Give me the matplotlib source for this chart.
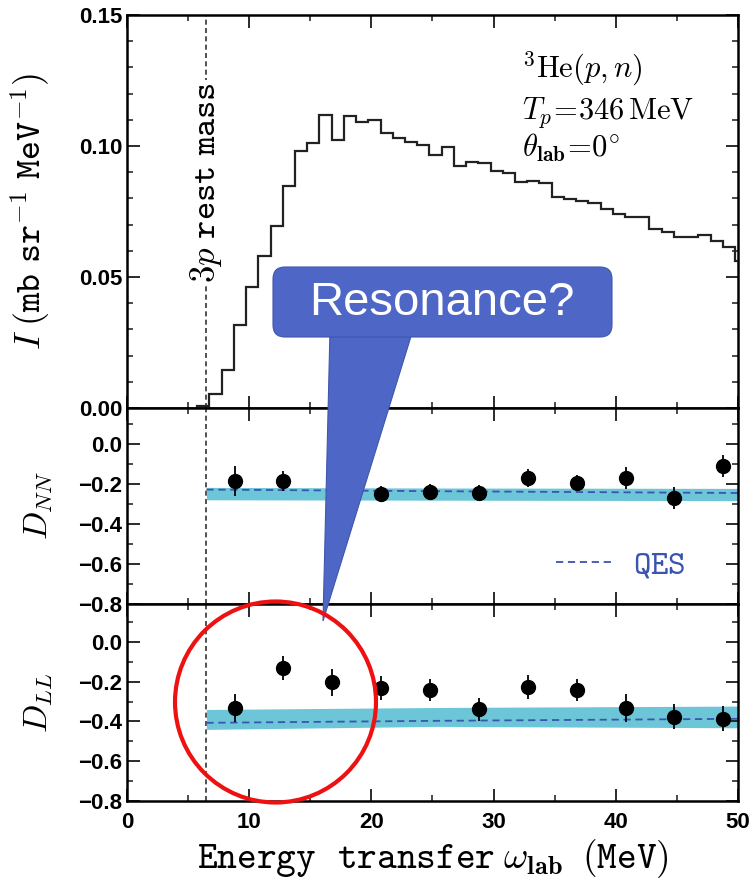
import numpy as np
import matplotlib.pyplot as plt
from matplotlib.patches import FancyBboxPatch, Polygon, Ellipse

plt.rcParams['font.family'] = 'Liberation Sans'
plt.rcParams['font.weight'] = 'bold'
plt.rcParams['mathtext.fontset'] = 'cm'

#------------ DATA -------------------
# 3He(p,n) spectrum, 1 MeV bins
hist_edges = np.arange(5.75, 50.76, 1.0)
hist_vals = [0.0007, 0.0053, 0.0145, 0.0318, 0.0463, 0.0581, 0.0696, 0.0848,
             0.0982, 0.1010, 0.1119, 0.1023, 0.1113, 0.1093, 0.1100, 0.1050,
             0.1029, 0.1014, 0.1004, 0.0966, 0.0995, 0.0925, 0.0937, 0.0935,
             0.0906, 0.0896, 0.0861, 0.0868, 0.0859, 0.0807, 0.0798, 0.0789,
             0.0781, 0.0760, 0.0741, 0.0728, 0.0730, 0.0683, 0.0670, 0.0651,
             0.0654, 0.0661, 0.0639, 0.0613, 0.0562]

threshold = 6.47   # 3p rest mass (MeV)

dnn_x = [8.8, 12.8, 20.8, 24.8, 28.8, 32.8, 36.8, 40.8, 44.8, 48.8]
dnn = [-0.183, -0.183, -0.25, -0.238, -0.245, -0.172, -0.195, -0.172, -0.27, -0.108]
dnn_err = [0.075, 0.05, 0.04, 0.04, 0.04, 0.045, 0.04, 0.055, 0.055, 0.055]

dll_x = [8.8, 12.8, 16.8, 20.8, 24.8, 28.8, 32.8, 36.8, 40.8, 44.8, 48.8]
dll = [-0.332, -0.132, -0.203, -0.232, -0.24, -0.34, -0.227, -0.243, -0.332, -0.377, -0.387]
dll_err = [0.072, 0.06, 0.068, 0.058, 0.055, 0.058, 0.058, 0.055, 0.07, 0.062, 0.062]

# QES calculation with uncertainty band
qes_x = [6.5, 25.3, 50.0]
dnn_qes = [-0.228, -0.236, -0.245]
dnn_lo = [-0.279, -0.281, -0.283]
dnn_hi = [-0.217, -0.220, -0.222]
dll_qes = [-0.407, -0.397, -0.387]
dll_lo = [-0.440, -0.425, -0.432]
dll_hi = [-0.340, -0.330, -0.323]

band_col = '#6cc6d8'
qes_col = '#3a55b0'
ink = '#1a1a1a'

#------------ FIGURE -------------------
fig = plt.figure(figsize=(7.54, 8.86), dpi=100)
ax1 = fig.add_axes([0.1684, 0.5395, 0.8104, 0.4436])
ax2 = fig.add_axes([0.1684, 0.3183, 0.8104, 0.2212], sharex=ax1)
ax3 = fig.add_axes([0.1684, 0.0959, 0.8104, 0.2224], sharex=ax1)

for ax in (ax1, ax2, ax3):
    ax.tick_params(which='both', direction='in', top=True, right=True,
                   labelsize=16, color=ink)
    ax.tick_params(which='major', length=9, width=1.3)
    ax.tick_params(which='minor', length=4, width=1.1)
    for s in ax.spines.values():
        s.set_linewidth(1.8)
    ax.axvline(threshold, color='#333333', lw=1.2, ls=(0, (3, 2)), zorder=1)

ax1.set_xlim(0, 50)
ax1.set_xticks([0, 10, 20, 30, 40, 50])
ax1.set_xticks(np.arange(0, 51, 5), minor=True)
ax1.tick_params(axis='x', labelbottom=False, pad=7)
ax2.tick_params(axis='x', labelbottom=False)
ax3.tick_params(axis='x', pad=8)

# top: intensity spectrum
ax1.stairs(hist_vals, hist_edges, color='#222222', lw=1.6, zorder=3)
ax1.set_ylim(0, 0.15)
ax1.set_yticks([0, 0.05, 0.10, 0.15])
ax1.set_yticklabels(['0.00', '0.05', '0.10', '0.15'])
ax1.set_yticks(np.arange(0, 0.151, 0.01), minor=True)
ax1.set_ylabel(r'$I\;\mathtt{(mb\ sr^{-1}\ MeV^{-1})}$', fontsize=26)
ax1.yaxis.set_label_coords(-0.122, 0.5)

ax1.text(threshold, 0.086, r'$\mathtt{3}p\ \mathtt{rest\ mass}$', rotation=90,
         ha='center', va='center', fontsize=25, zorder=4,
         bbox=dict(facecolor='white', edgecolor='none', pad=2))

ax1.text(32.3, 0.1262, r'$^{3}\mathrm{He}(p,n)$', fontsize=22, va='baseline')
ax1.text(32.3, 0.1104, r'$T_p\!=\!346\,\mathrm{MeV}$', fontsize=22, va='baseline')
ax1.text(32.3, 0.0957, r'$\theta_{\mathbf{lab}}\!=\!0^{\circ}$', fontsize=22, va='baseline')

# middle: D_NN
ax2.fill_between(qes_x, dnn_lo, dnn_hi, color=band_col, lw=0, zorder=1)
qes_line, = ax2.plot(qes_x, dnn_qes, color=qes_col, lw=1.3, ls=(0, (4, 2.6)), zorder=2)
ax2.errorbar(dnn_x, dnn, yerr=dnn_err, fmt='o', color='black', ms=10,
             elinewidth=1.3, capsize=0, zorder=3)
ax2.set_ylim(-0.8, 0.18)
ax2.set_yticks([-0.8, -0.6, -0.4, -0.2, 0.0])
ax2.set_yticks(np.arange(-0.8, 0.15, 0.1), minor=True)
ax2.set_ylabel(r'$D_{NN}$', fontsize=24)
ax2.yaxis.set_label_coords(-0.118, 0.5)
ax2.legend(handles=[qes_line], labels=[r'$\mathtt{QES}$'], labelcolor=qes_col,
           fontsize=24, frameon=False, handlelength=1.7, handletextpad=0.6,
           loc='center', bbox_to_anchor=(0.808, 0.199))

# bottom: D_LL
ax3.fill_between(qes_x, dll_lo, dll_hi, color=band_col, lw=0, zorder=1)
ax3.plot(qes_x, dll_qes, color=qes_col, lw=1.3, ls=(0, (4, 2.6)), zorder=2)
ax3.errorbar(dll_x, dll, yerr=dll_err, fmt='o', color='black', ms=10,
             elinewidth=1.3, capsize=0, zorder=3)
ax3.set_ylim(-0.8, 0.19)
ax3.set_yticks([-0.8, -0.6, -0.4, -0.2, 0.0])
ax3.set_yticks(np.arange(-0.8, 0.15, 0.1), minor=True)
ax3.set_ylabel(r'$D_{LL}$', fontsize=24)
ax3.yaxis.set_label_coords(-0.118, 0.5)
ax3.set_xlabel(r'$\mathtt{Energy\ \ transfer}\;\omega_{\mathbf{lab}}\;\;\mathtt{(MeV)}$',
               fontsize=27, labelpad=3)

#------------ CALLOUT + CIRCLE (pixel units) -------------------
over = fig.add_axes([0, 0, 1, 1], zorder=10)
over.set_xlim(0, 754)
over.set_ylim(886, 0)
over.axis('off')

call_col = '#4e67c6'
over.add_patch(Polygon([(330, 330), (413, 330), (323, 621)], closed=True,
                       facecolor=call_col, edgecolor='#3f56ad', lw=0.8))
over.add_patch(FancyBboxPatch((273, 267), 339, 70,
                              boxstyle='round,pad=0,rounding_size=12',
                              facecolor=call_col, edgecolor='#3f56ad', lw=0.8))
over.text(442, 303, 'Resonance?', color='white', fontsize=34,
          fontweight='normal', ha='center', va='center')
over.add_patch(Ellipse((275.5, 702), 201, 201, fill=False,
                       edgecolor='#ee1111', lw=3))

fig.savefig('out.png', dpi=100)
